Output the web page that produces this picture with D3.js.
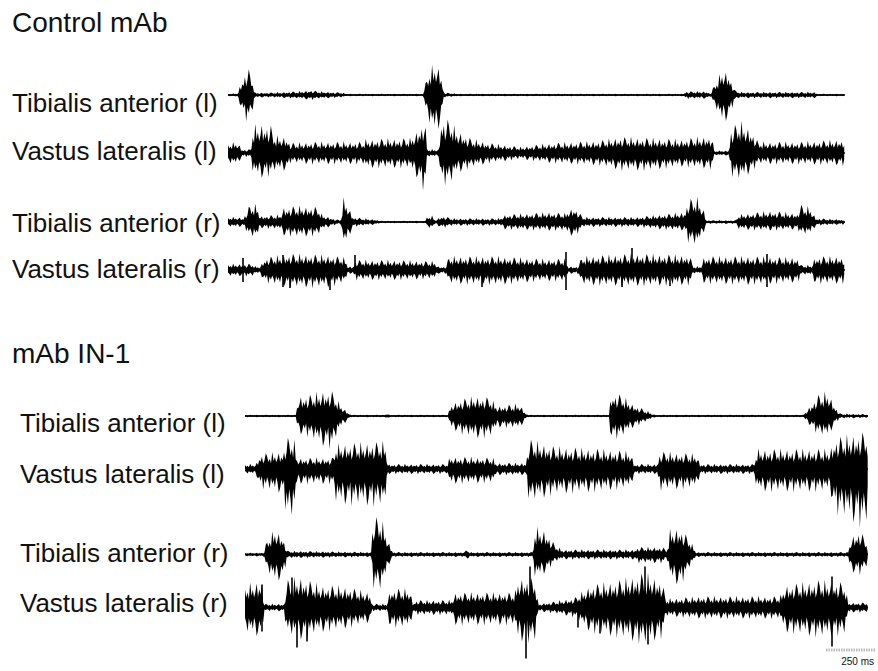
<!DOCTYPE html>
<html>
<head>
<meta charset="utf-8">
<script src="https://cdn.jsdelivr.net/npm/d3@7"></script>
<style>
  body { margin: 0; background: #fff; }
  text { font-family: "Liberation Sans", Arial, sans-serif; fill: #111; }
</style>
</head>
<body>
<svg id="fig" width="878" height="671"></svg>
<script>
// envelope knots: [time ms, amplitude up, amplitude down] (a.u.)
// spikes: [time ms, up, down]

// ---- Control mAb ----
const ctrlTAl = [[0,1,1],[50,1.5,1.5],[60,8,8],[85,18,20],[100,22,21],[120,15,16],[135,2,2],[210,2,2],[360,3,3],[410,4,4],[460,3,3],[575,2,2],[590,1,1],[975,1,1],[985,8,10],[1010,22,26],[1045,26,32],[1065,18,20],[1080,2,2],[1160,1,1],[2275,1,1],[2290,3,3],[2395,3,3],[2415,1,1],[2430,8,8],[2470,20,22],[2500,19,20],[2535,4,4],[2560,2.5,2.5],[2935,2.5,2.5],[2950,1,1],[3085,1,1]];
const ctrlTAlSp = [[100,23,0],[90,0,21],[400,6,3],[1040,26,0],[1050,0,32],[2478,21,0],[2475,0,22]];

const ctrlVLl = [[0,8,9],[50,9,9],[60,6,6],[70,3,3],[115,3,3],[125,22,18],[170,24,20],[215,22,18],[230,14,15],[295,13,14],[310,8,8],[410,9,9],[675,9,9],[685,11,12],[910,12,12],[945,18,20],[985,28,32],[995,3,3],[1055,3,3],[1065,28,26],[1120,26,24],[1135,20,17],[1210,12,12],[1310,8,8],[1460,5,5],[1610,8,8],[1860,10,10],[1960,13,14],[2110,12,14],[2260,11,11],[2360,13,12],[2420,14,13],[2430,2,2],[2505,2,2],[2515,20,18],[2560,26,22],[2620,18,15],[2650,9,9],[2860,9,9],[3075,11,10],[3085,10,10]];
const ctrlVLlSp = [[60,16,17],[135,0,30],[410,16,0],[975,33,35],[1075,31,0],[1085,0,28],[2025,0,17],[2535,0,24],[2585,33,0]];

const ctrlTAr = [[0,4,4],[60,4,4],[75,3,3],[110,14,12],[145,14,13],[160,5,5],[265,6,6],[275,12,11],[360,13,12],[450,12,11],[470,6,6],[545,2,2],[565,2,2],[575,20,20],[600,14,14],[625,4,4],[745,2,2],[760,1,1],[990,1,1],[995,5,5],[1025,5,5],[1035,1.5,1.5],[1070,5,5],[1125,3,3],[1360,3,3],[1385,6,6],[1610,8,7],[1690,7,7],[1700,10,10],[1735,12,12],[1775,4,4],[2045,4,4],[2160,6,6],[2285,8,7],[2300,18,16],[2345,20,20],[2380,10,8],[2390,1.5,1.5],[2540,1.5,1.5],[2550,6,6],[2710,9,7],[2850,7,6],[2860,14,10],[2910,12,10],[2940,3,3],[3085,2,2]];
const ctrlTArSp = [[75,19,20],[260,19,18],[575,26,21],[1055,18,18],[1705,18,20],[2320,27,24],[2350,23,18],[2890,18,12]];

const ctrlVLr = [[0,5,5],[125,5,5],[135,3,3],[160,3,3],[185,10,10],[310,13,14],[510,12,14],[585,10,10],[600,3,3],[625,3,3],[635,8,8],[860,8,8],[1035,7,7],[1050,3,3],[1090,3,3],[1105,11,11],[1360,11,12],[1560,9,9],[1685,9,9],[1700,3,3],[1750,3,3],[1770,11,12],[2010,13,13],[2310,12,12],[2325,3,3],[2365,3,3],[2380,11,11],[2610,11,12],[2850,10,10],[2865,4,4],[2920,4,4],[2935,11,11],[3075,11,11],[3085,6,6]];
const ctrlVLrSp = [[75,12,12],[275,15,17],[310,0,18],[510,0,20],[635,15,0],[1270,0,17],[1690,18,20],[1970,0,17],[2020,22,0],[2210,0,16],[2695,16,17]];

// ---- mAb IN-1 ----
const inTAl = [[0,1,1],[255,1,1],[265,16,14],[325,17,17],[385,20,24],[435,20,26],[475,10,10],[515,3,3],[530,1,1],[700,1,1],[710,3,3],[720,1,1],[1015,1,1],[1030,10,10],[1075,13,14],[1150,16,18],[1225,15,17],[1260,8,9],[1375,10,10],[1400,3,3],[1415,1,1],[1820,1,1],[1830,19,19],[1885,17,17],[1935,10,10],[2025,3,3],[2050,1,1],[2790,1,1],[2815,6,6],[2865,17,15],[2915,20,17],[2950,8,6],[2975,2,2],[3115,1.5,1.5]];
const inTAlSp = [[275,21,0],[425,22,27],[1020,19,14],[1375,14,17],[1835,20,20],[2890,23,17]];

const inVLl = [[0,4,4],[55,4,4],[75,12,15],[190,14,20],[210,25,40],[245,25,40],[260,9,12],[440,9,12],[455,20,28],[700,22,30],[715,4,4],[1010,4,4],[1025,10,12],[1240,9,11],[1255,5,5],[1405,5,5],[1420,24,27],[1550,18,20],[1775,16,18],[1930,14,15],[1945,4,4],[2060,4,4],[2075,14,17],[2260,12,15],[2275,4,4],[2545,4,4],[2560,16,18],[2925,16,18],[2950,25,35],[3105,30,48],[3115,25,30]];
const inVLlSp = [[225,0,50],[240,46,56],[565,30,0],[585,0,55],[615,32,56],[1020,22,26],[1260,0,20],[1600,0,31],[2115,24,0],[2750,0,34],[3075,31,49]];

const inTAr = [[0,1.5,1.5],[95,1.5,1.5],[110,12,14],[150,21,22],[190,15,20],[210,3,3],[630,2,2],[640,30,26],[680,30,30],[720,10,8],[740,2,2],[1100,2,2],[1110,6,6],[1120,2,2],[1440,2,2],[1450,22,20],[1500,20,15],[1550,8,6],[1585,4,4],[1950,4,4],[1965,6,7],[2090,6,7],[2110,3,3],[2125,20,20],[2175,22,26],[2225,12,10],[2255,2,2],[3015,2,2],[3030,14,14],[3075,20,16],[3110,10,10],[3115,4,4]];
const inTArSp = [[140,23,27],[665,35,35],[685,0,33],[1460,27,35],[2175,22,27],[3065,26,35]];

const inVLr = [[0,18,20],[85,22,24],[95,3,3],[195,3,3],[210,22,22],[275,25,26],[375,18,20],[500,17,17],[625,12,12],[635,3,3],[710,3,3],[725,15,16],[825,15,16],[840,3,3],[855,6,6],[1035,6,6],[1050,12,14],[1350,12,14],[1365,24,27],[1450,24,28],[1465,3,3],[1550,5,5],[1650,8,8],[1725,18,20],[1875,22,24],[2000,28,30],[2085,22,24],[2105,7,7],[2275,9,9],[2675,9,9],[2700,18,20],[2875,22,24],[3000,20,22],[3015,4,4],[3115,4,4]];
const inVLrSp = [[85,23,24],[235,30,0],[260,0,40],[310,0,34],[1405,0,51],[1425,41,0],[1665,0,20],[1775,0,26],[2000,41,0],[2015,0,37],[2935,31,39]];

const scaleBarMs = 250;

const blocks = [
  { title: 'Control mAb', titleX: 12, titleY: 32, labelX: 12, x0: 228, x1: 845, dur: 3085,
    traces: [
      { name: 'Tibialis anterior (l)', base: 95, labelY: 112, env: ctrlTAl, spikes: ctrlTAlSp },
      { name: 'Vastus lateralis (l)', base: 153, labelY: 160, env: ctrlVLl, spikes: ctrlVLlSp },
      { name: 'Tibialis anterior (r)', base: 222, labelY: 232, env: ctrlTAr, spikes: ctrlTArSp },
      { name: 'Vastus lateralis (r)', base: 270, labelY: 278, env: ctrlVLr, spikes: ctrlVLrSp }
    ] },
  { title: 'mAb IN-1', titleX: 12, titleY: 363, labelX: 20, x0: 245, x1: 868, dur: 3115,
    traces: [
      { name: 'Tibialis anterior (l)', base: 416, labelY: 432, env: inTAl, spikes: inTAlSp },
      { name: 'Vastus lateralis (l)', base: 469, labelY: 483, env: inVLl, spikes: inVLlSp },
      { name: 'Tibialis anterior (r)', base: 554.5, labelY: 562, env: inTAr, spikes: inTArSp },
      { name: 'Vastus lateralis (r)', base: 607.5, labelY: 612, env: inVLr, spikes: inVLrSp }
    ] }
];

const svg = d3.select('#fig');
const aScale = d3.scaleLinear().domain([0, 60]).range([0, 60]);
// texture pattern for the jagged EMG edge
const jag = [1, 0.55, 0.8, 0.45, 1.3, 0.6, 0.9, 0.5, 0.75, 1.15, 0.5, 0.85, 0.6, 1.0, 0.45, 0.7, 1.25];

const ampAt = (env, t, k) => {
  const i = d3.bisector(d => d[0]).right(env, t);
  if (i <= 0) return env[0][k];
  if (i >= env.length) return env[env.length - 1][k];
  const a = env[i - 1], b = env[i];
  const f = (t - a[0]) / (b[0] - a[0] || 1);
  return a[k] + (b[k] - a[k]) * f;
};

blocks.forEach(b => {
  const x = d3.scaleLinear().domain([0, b.dur]).range([b.x0, b.x1]);
  const g = svg.append('g');
  g.append('text').attr('x', b.titleX).attr('y', b.titleY)
    .attr('font-size', 28).text(b.title);

  b.traces.forEach(tr => {
    g.append('text').attr('x', b.labelX).attr('y', tr.labelY)
      .attr('font-size', 26).text(tr.name);

    // dense outline through the knots, with a jagged edge
    const pts = [];
    const step = 1.3;
    const n = Math.floor((b.x1 - b.x0) / step);
    for (let i = 0; i <= n; i++) {
      const t = x.invert(b.x0 + i * step);
      pts.push({
        t,
        up: ampAt(tr.env, t, 1) * jag[i % jag.length],
        dn: ampAt(tr.env, t, 2) * jag[(i + 7) % jag.length]
      });
    }
    const area = d3.area()
      .x(d => x(d.t))
      .y0(d => tr.base + aScale(d.dn))
      .y1(d => tr.base - aScale(d.up));
    g.append('path').datum(pts).attr('d', area).attr('fill', '#000');

    g.append('line')
      .attr('x1', x(0)).attr('x2', x(b.dur))
      .attr('y1', tr.base).attr('y2', tr.base)
      .attr('stroke', '#000').attr('stroke-width', 1.6);

    g.selectAll('.spike').data(tr.spikes).join('line')
      .attr('class', 'spike')
      .attr('x1', d => x(d[0])).attr('x2', d => x(d[0]))
      .attr('y1', d => tr.base - aScale(d[1]))
      .attr('y2', d => tr.base + aScale(d[2]))
      .attr('stroke', '#000').attr('stroke-width', 1.6);
  });
});

// scale bar
const xb = d3.scaleLinear().domain([0, blocks[1].dur]).range([blocks[1].x0, blocks[1].x1]);
const barX1 = 876, barX0 = barX1 - (xb(scaleBarMs) - xb(0));
svg.append('line').attr('x1', barX0).attr('x2', barX1).attr('y1', 650).attr('y2', 650)
  .attr('stroke', '#bbb').attr('stroke-width', 3).attr('stroke-dasharray', '1.5,1');
svg.append('text').attr('x', 874).attr('y', 665).attr('text-anchor', 'end')
  .attr('font-size', 10).text(scaleBarMs + ' ms');
</script>
</body>
</html>
